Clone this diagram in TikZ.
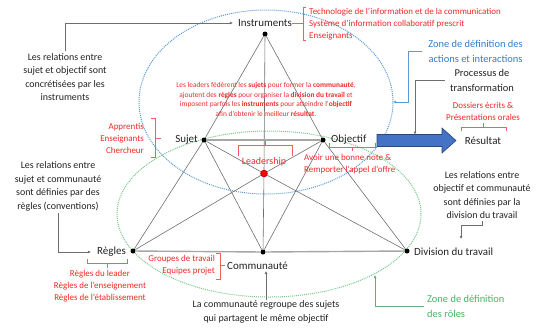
\documentclass[tikz,border=0pt]{standalone}
\usepackage{fontspec}
\setmainfont{Carlito}
\usetikzlibrary{arrows.meta}
\definecolor{myred}{RGB}{240,40,40}
\definecolor{myblue}{RGB}{50,125,200}
\definecolor{ellblue}{RGB}{91,155,213}
\definecolor{mygreen}{RGB}{70,180,100}
\definecolor{ellgreen}{RGB}{120,200,140}
\definecolor{linegray}{RGB}{110,110,110}
\definecolor{txt}{RGB}{35,35,35}
\definecolor{arrowblue}{RGB}{68,114,196}
\definecolor{arrowedge}{RGB}{40,70,130}
\begin{document}
\begin{tikzpicture}[x=1bp,y=-1bp,
  dot/.style={circle,fill=black,inner sep=0pt,minimum size=5bp},
  link/.style={draw=linegray,line width=0.6bp},
  heavy/.style={draw=black!35,line width=1.4bp},
  lbl/.style={font=\fontsize{11}{13}\selectfont,text=txt,inner sep=0pt},
  note/.style={font=\fontsize{10}{13.5}\selectfont,text=txt,align=center,inner sep=0pt},
  rnote/.style={font=\fontsize{9}{12}\selectfont,text=myred,inner sep=0pt},
  bnote/.style={font=\fontsize{10.5}{15}\selectfont,inner sep=0pt},
  gconn/.style={draw=linegray,line width=0.7bp},
  rbr/.style={draw=myred!75,line width=0.6bp},
  tip/.style={-{Latex[length=3bp,width=3bp]}}
]
\useasboundingbox (0,0) rectangle (543,333);
% zones
\draw[ellblue,densely dotted,line width=1bp] (266,102) ellipse [x radius=127bp,y radius=92bp];
\draw[ellgreen,densely dotted,line width=1bp] (269,214) ellipse [x radius=152bp,y radius=83bp];
% dots
\node[dot] (I) at (265,34) {};
\node[dot] (S) at (204,140) {};
\node[dot] (O) at (323,140) {};
\node[circle,fill=red,draw=red!60!black,line width=0.4bp,inner sep=0pt,minimum size=7bp] (L) at (264,173.5) {};
\node[dot] (R) at (133,251) {};
\node[dot] (C) at (263,252) {};
\node[dot] (D) at (407,251) {};
% links
\draw[link] (I) -- (S);
\draw[link] (S) -- (R);
\draw[link] (I) -- (O);
\draw[link] (O) -- (D);
\draw[link] (I) -- (L);
\draw[link] (L) -- (C);
\draw[link] (S) -- (C);
\draw[link] (O) -- (C);
\draw[link] (S) -- (L);
\draw[link] (L) -- (D);
\draw[link] (O) -- (L);
\draw[link] (L) -- (R);
\draw[heavy] (S) -- (O);
\draw[heavy] (R) -- (C);
\draw[heavy] (C) -- (D);
% block arrow
\draw[fill=arrowblue,draw=arrowedge,line width=0.6bp] (377,134.5) -- (442,134.5) -- (442,128) -- (456,140.5) -- (442,153) -- (442,146.5) -- (377,146.5) -- cycle;
\coordinate (Atop) at (415,134.5);
% main labels
\node[lbl] (tI) at (265,23) {Instruments};
\node[lbl,anchor=east] (tS) at (198,140) {Sujet};
\node[lbl,anchor=west] (tO) at (331,140) {Objectif};
\node[lbl,anchor=east] (tR) at (126,252) {Règles};
\node[lbl,anchor=west] (tC) at (227,266) {Communauté};
\node[lbl,anchor=west] (tD) at (414,252) {Division du travail};
\node[lbl] (tRes) at (483,141) {Résultat};
\node[font=\fontsize{10}{12}\selectfont,text=myred,inner sep=0pt] (tL) at (264,162) {Leadership};
% notes
\node[note] (n1) at (65,77) {Les relations entre\\sujet et objectif sont\\concrétisées par les\\instruments};
\draw[gconn,tip] ([yshift=2bp]n1.north) |- ([xshift=-5bp]tI.west);
\node[note] (n2) at (58,186.5) {Les relations entre\\sujet et communauté\\sont définies par des\\règles (conventions)};
\draw[gconn,tip] ([yshift=-2bp]n2.south) |- ([xshift=-6bp]tR.west);
\node[note] (n3) at (482,195) {Les relations entre\\objectif et communauté\\sont définies par la\\division du travail};
\coordinate (dEnd) at (461,239);
\draw[gconn,tip] ([yshift=-2bp]n3.south) -- ++(0,4) -| (dEnd);
\node[note] (n4) at (266,312) {La communauté regroupe des sujets\\qui partagent le même objectif};
\draw[gconn,tip] ([yshift=1bp]n4.north) -- ([yshift=-1bp]n4.north |- tC.south);
\node[bnote,text=txt,align=center] (n5) at (482,80.5) {Processus de\\transformation};
\draw[gconn,tip] ([xshift=-5bp]n5.west) -| (Atop);
\node[rnote,align=center] (n6) at (483,111) {Dossiers écrits \&\\Présentations orales};
\draw[rbr] (461,131) -- (461,127) -- (506,127) -- (506,131);
\draw[rbr] (483.5,127) -- (483.5,123);
\node[bnote,text=myblue,align=center] (n7) at (475.5,51.5) {Zone de définition des\\actions et interactions};
\coordinate (eb) at (393,102);
\draw[draw=ellblue,line width=0.7bp,tip] ([xshift=-6bp]n7.west) -- ++(-14,0) |- (eb);
\node[bnote,text=mygreen,align=left,anchor=west] (n8) at (427,306.5) {Zone de définition\\des rôles};
\coordinate (eg) at (375,275);
\draw[draw=ellgreen!85!black,line width=0.7bp,tip] ([xshift=-3bp]n8.west) -| (eg);
% red annotations
\node[rnote,align=left,anchor=west] (n9) at (309,24) {Technologie de l’information et de la communication\\Système d’information collaboratif prescrit\\Enseignants};
\draw[rbr] (306,7) -- (303,7) -- (303,40) -- (306,40);
\draw[rbr] (tI.east) -- (303,23);
\node[rnote,align=right,anchor=east] (n10) at (144,138) {Apprentis\\Enseignants\\Chercheur};
\draw[rbr] (151,118) -- (155,118) -- (155,157) -- (151,157);
\draw[rbr] (155,138) -- (161,138);
\node[rnote,align=center] (n11) at (100,286) {Règles du leader\\Règles de l’enseignement\\Règles de l’établissement};
\draw[rbr] (87,259) -- (87,263) -- (127,263) -- (127,259);
\draw[rbr] (107,263) -- (107,268);
\node[rnote,align=right,anchor=east] (n12) at (215,265) {Groupes de travail\\Equipes projet};
\draw[rbr] (216,253) -- (220,253) -- (220,279) -- (216,279);
\draw[rbr] (220,265) -- (225,265);
\node[rnote,align=left,anchor=west] (n13) at (304,164) {Avoir une bonne note \&\\Remporter l’appel d’offre};
\draw[rbr] (329,143) -- (329,147) -- (375,147) -- (375,143);
\draw[rbr] (352,147) -- (352,151);
\draw[rbr] (238,156) -- (238,145) -- (292,145) -- (292,156);
\draw[rbr] (265,145) -- (265,141);
\node[font=\fontsize{7.4}{9.7}\selectfont,text=myred,align=center,inner sep=0pt] (n14) at (266,99.5) {Les leaders fédèrent les \textbf{sujets} pour former la \textbf{communauté},\\ajoutent des \textbf{règles} pour organiser la \textbf{division du travail} et\\imposent parfois les \textbf{instruments} pour atteindre l’\textbf{objectif}\\afin d’obtenir le meilleur \textbf{résultat}.};
\end{tikzpicture}
\end{document}
